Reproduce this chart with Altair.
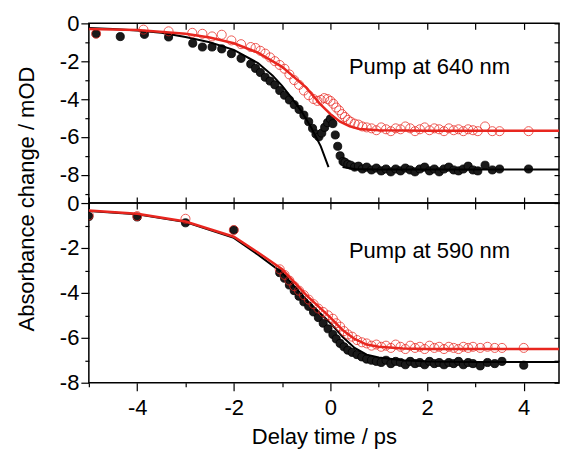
import altair as alt
import pandas as pd

FONT = "Liberation Sans"
RED = "#e8261f"

# ---------------- Top panel: pump at 640 nm ----------------
top_black_t = [-4.85, -4.35, -3.85, -3.35, -2.85, -2.65, -2.45, -2.25, -2.05, -1.85, -1.65, -1.55,
               -1.45, -1.35, -1.25, -1.15, -1.05, -0.95, -0.85, -0.75, -0.65, -0.55, -0.45, -0.37,
               -0.30, -0.24, -0.18, -0.12, -0.06, 0.00, 0.05, 0.10, 0.15, 0.20, 0.26, 0.30, 0.36,
               0.42, 0.50, 0.58, 0.66, 0.75, 0.85, 0.95, 1.05, 1.15, 1.25, 1.35, 1.45, 1.55, 1.65,
               1.75, 1.85, 1.95, 2.05, 2.15, 2.25, 2.35, 2.45, 2.55, 2.65, 2.75, 2.85, 2.95, 3.05,
               3.20, 3.35, 3.50, 4.10]
top_black_a = [-0.55, -0.70, -0.58, -0.72, -1.05, -1.25, -1.25, -1.35, -1.60, -1.85, -2.15, -2.38,
               -2.60, -2.85, -3.05, -3.25, -3.55, -3.80, -4.05, -4.30, -4.55, -4.85, -5.20, -5.55,
               -5.85, -6.00, -5.80, -5.50, -5.25, -5.05, -5.30, -5.90, -6.50, -7.00, -7.30, -7.35,
               -7.45, -7.50, -7.60, -7.55, -7.70, -7.60, -7.75, -7.65, -7.80, -7.70, -7.85, -7.70,
               -7.80, -7.65, -7.75, -7.85, -7.70, -7.60, -7.80, -7.70, -7.85, -7.70, -7.60, -7.75,
               -7.80, -7.70, -7.55, -7.75, -7.80, -7.50, -7.75, -7.70, -7.70]

top_red_t = [-4.85, -3.87, -3.35, -2.86, -2.65, -2.45, -2.25, -2.05, -1.85, -1.65, -1.55, -1.45,
             -1.35, -1.25, -1.15, -1.05, -0.95, -0.85, -0.75, -0.65, -0.55, -0.45, -0.35, -0.27,
             -0.20, -0.13, -0.06, 0.00, 0.06, 0.12, 0.18, 0.24, 0.30, 0.36, 0.42, 0.50, 0.58,
             0.66, 0.75, 0.85, 0.95, 1.05, 1.15, 1.25, 1.35, 1.45, 1.55, 1.65, 1.75, 1.85, 1.95,
             2.05, 2.15, 2.25, 2.35, 2.45, 2.55, 2.65, 2.75, 2.85, 2.95, 3.05, 3.20, 3.35, 3.50, 4.10]
top_red_a = [-0.55, -0.33, -0.42, -0.50, -0.55, -0.69, -0.60, -0.90, -1.10, -1.25, -1.30, -1.45,
             -1.60, -1.80, -2.00, -2.20, -2.40, -2.70, -3.00, -3.25, -3.55, -3.80, -4.00, -4.10,
             -4.05, -3.95, -4.00, -4.10, -4.25, -4.45, -4.60, -4.80, -4.95, -5.10, -5.20, -5.30,
             -5.35, -5.45, -5.50, -5.55, -5.65, -5.50, -5.60, -5.70, -5.55, -5.60, -5.45, -5.55,
             -5.70, -5.60, -5.50, -5.65, -5.55, -5.60, -5.70, -5.55, -5.65, -5.60, -5.70, -5.60,
             -5.65, -5.70, -5.45, -5.70, -5.70, -5.70]

top_fit_black_t = [-5.0, -4.5, -4.0, -3.5, -3.0, -2.5, -2.0, -1.5, -1.2, -1.0, -0.8, -0.6, -0.4,
                   -0.2, -0.04, 0.25, 0.5, 1.0, 5.0]
top_fit_black_a = [-0.25, -0.30, -0.38, -0.50, -0.72, -1.00, -1.40, -2.10, -2.75, -3.30, -3.95,
                   -4.65, -5.50, -6.50, -7.60, -7.60, -7.70, -7.72, -7.72]
top_fit_black_seg = ["a"] * 15 + ["b"] * 4

top_fit_red_t = [-5.0, -4.0, -3.0, -2.5, -2.0, -1.5, -1.0, -0.5, -0.2, 0.0, 0.2, 0.4, 0.6, 1.0, 2.0, 5.0]
top_fit_red_a = [-0.30, -0.35, -0.55, -0.75, -1.05, -1.55, -2.30, -3.40, -4.30, -4.80, -5.20,
                 -5.45, -5.58, -5.65, -5.68, -5.68]

# ---------------- Bottom panel: pump at 590 nm ----------------
bot_black_t = [-5.0, -4.0, -3.0, -2.0, -1.05, -0.95, -0.85, -0.75, -0.65, -0.55, -0.45, -0.35,
               -0.25, -0.15, -0.05, 0.05, 0.12, 0.20, 0.28, 0.36, 0.45, 0.55, 0.65, 0.75, 0.85,
               0.95, 1.05, 1.15, 1.25, 1.35, 1.45, 1.55, 1.65, 1.75, 1.85, 1.95, 2.05, 2.15, 2.25,
               2.35, 2.45, 2.55, 2.65, 2.75, 2.85, 2.95, 3.10, 3.25, 3.40, 3.55, 4.00]
bot_black_a = [-0.60, -0.62, -0.88, -1.20, -3.10, -3.35, -3.65, -3.90, -4.15, -4.40, -4.60, -4.85,
               -5.10, -5.35, -5.60, -5.85, -6.05, -6.25, -6.40, -6.55, -6.65, -6.75, -6.85, -6.95,
               -7.00, -7.05, -7.10, -7.00, -7.15, -7.05, -7.10, -7.20, -7.05, -7.15, -7.10, -7.20,
               -7.05, -7.15, -7.10, -7.20, -7.10, -7.15, -7.05, -7.20, -7.10, -7.15, -7.25, -7.10,
               -7.15, -7.05, -7.22]

bot_red_t = [-5.0, -4.0, -3.0, -2.0, -1.05, -0.95, -0.85, -0.75, -0.65, -0.55, -0.45, -0.35,
             -0.25, -0.15, -0.05, 0.05, 0.12, 0.20, 0.28, 0.36, 0.45, 0.55, 0.65, 0.75, 0.85,
             0.95, 1.05, 1.15, 1.25, 1.35, 1.45, 1.55, 1.65, 1.75, 1.85, 1.95, 2.05, 2.15, 2.25,
             2.35, 2.45, 2.55, 2.65, 2.75, 2.85, 2.95, 3.10, 3.25, 3.40, 3.55, 4.00]
bot_red_a = [-0.55, -0.58, -0.70, -1.20, -2.95, -3.20, -3.45, -3.70, -3.90, -4.10, -4.30, -4.50,
             -4.70, -4.85, -5.00, -5.15, -5.35, -5.50, -5.70, -5.85, -5.95, -6.10, -6.20, -6.25,
             -6.35, -6.30, -6.40, -6.35, -6.45, -6.30, -6.40, -6.50, -6.35, -6.45, -6.40, -6.50,
             -6.35, -6.45, -6.40, -6.50, -6.40, -6.45, -6.50, -6.40, -6.45, -6.40, -6.45, -6.40,
             -6.45, -6.45, -6.45]

bot_fit_black_t = [-5.0, -4.0, -3.0, -2.0, -1.5, -1.0, -0.5, 0.0, 0.25, 0.5, 0.75, 1.0, 1.5, 2.0, 3.0, 5.0]
bot_fit_black_a = [-0.35, -0.50, -0.85, -1.55, -2.30, -3.10, -4.30, -5.35, -5.95, -6.45, -6.75,
                   -6.88, -7.00, -7.05, -7.08, -7.08]

bot_fit_red_t = [-5.0, -4.0, -3.0, -2.0, -1.5, -1.0, -0.5, 0.0, 0.25, 0.5, 0.75, 1.0, 1.5, 2.0, 5.0]
bot_fit_red_a = [-0.33, -0.48, -0.82, -1.50, -2.20, -2.95, -4.10, -5.10, -5.65, -6.05, -6.30,
                 -6.40, -6.48, -6.50, -6.50]

labels_text = ["Pump at 640 nm", "Pump at 590 nm"]
labels_t = [2.05, 2.05]
labels_a = [-2.3, -2.12]

x_ticks = list(range(-5, 5))
top_y_ticks = list(range(-9, 1))
bot_y_ticks = list(range(-8, 1))

# The reference frame is cut at its right edge (about t = 4.73 is the last visible time)
W, H = 471, 180
xs = alt.Scale(domain=[-5, 4.73], nice=False, zero=False)
ys_top = alt.Scale(domain=[-9.5, 0], nice=False, zero=False)
ys_bot = alt.Scale(domain=[-8, 0], nice=False, zero=False)

even_label = ("abs(datum.value) % 2 == 0 ? (datum.value < 0 ? '-' + abs(datum.value) : '' + datum.value) : ''")


def tick_expr(major, minor):
    return {"expr": f"abs(datum.value) % 2 == 0 ? {major} : {minor}"}


def df_pts(t, a):
    return pd.DataFrame({"t": t, "a": a})


def panel(bk, rd, fbk, frd, lab_i, ys, yticks, is_top):
    if is_top:
        xA = alt.Axis(orient="top", offset=-6, values=x_ticks, tickSize=6, labels=False,
                      title=None, domain=False, minExtent=0, maxExtent=0)
        xB = alt.Axis(orient="bottom", offset=-6, values=x_ticks, tickSize=12, labels=False,
                      title=None, domain=False, minExtent=0, maxExtent=0)
    else:
        xA = alt.Axis(orient="bottom", values=x_ticks, tickSize=tick_expr(8, 4), labelExpr=even_label,
                      labelPadding=7, title="Delay time / ps", titlePadding=8, domain=False)
        xB = None
    yA = alt.Axis(orient="left", values=yticks, tickSize=tick_expr(8, 4), labelExpr=even_label,
                  labelPadding=2, title=None, domain=False)
    yB = alt.Axis(orient="right", offset=-5, values=yticks, tickSize=5, labels=False,
                  title=None, domain=False, minExtent=0, maxExtent=0)

    black_pts = alt.Chart(bk).mark_point(filled=True, size=66, fill="#1a1a1a", stroke="#000",
                                         strokeWidth=0.8, opacity=1, clip=True).encode(
        x=alt.X("t:Q", scale=xs, axis=xA),
        y=alt.Y("a:Q", scale=ys, axis=yA),
    )
    black_line = alt.Chart(fbk).mark_line(color="black", strokeWidth=2, clip=True).encode(
        x=alt.X("t:Q", scale=xs, axis=None),
        y=alt.Y("a:Q", scale=ys, axis=None),
        detail="seg:N",
    )
    red_pts = alt.Chart(rd).mark_point(filled=False, size=82, color=RED, strokeWidth=1,
                                       opacity=0.75, clip=True).encode(
        x=alt.X("t:Q", scale=xs, axis=None),
        y=alt.Y("a:Q", scale=ys, axis=None),
    )
    red_line = alt.Chart(frd).mark_line(color=RED, strokeWidth=2.5, clip=True).encode(
        x=alt.X("t:Q", scale=xs, axis=xB),
        y=alt.Y("a:Q", scale=ys, axis=yB),
    )
    lab_df = pd.DataFrame({"t": [labels_t[lab_i]], "a": [labels_a[lab_i]], "txt": [labels_text[lab_i]]})
    label = alt.Chart(lab_df).mark_text(font=FONT, fontSize=22, color="black", align="center",
                                        baseline="middle").encode(
        x=alt.X("t:Q", scale=xs, axis=None),
        y=alt.Y("a:Q", scale=ys, axis=None),
        text="txt:N",
    )
    layers = [black_pts, black_line, red_pts, red_line, label]
    if not is_top:
        ytitle = alt.Chart(pd.DataFrame({"txt": ["Absorbance change / mOD"]})).mark_text(
            font=FONT, fontSize=22, color="black", angle=270, align="center", baseline="middle"
        ).encode(x=alt.value(-62), y=alt.value(-4), text="txt:N")
        layers.append(ytitle)
    return alt.layer(*layers).resolve_axis(x="independent", y="independent").properties(
        width=W, height=H)


top = panel(df_pts(top_black_t, top_black_a), df_pts(top_red_t, top_red_a),
            pd.DataFrame({"t": top_fit_black_t, "a": top_fit_black_a, "seg": top_fit_black_seg}),
            df_pts(top_fit_red_t, top_fit_red_a), 0, ys_top, top_y_ticks, True)
bottom = panel(df_pts(bot_black_t, bot_black_a), df_pts(bot_red_t, bot_red_a),
               pd.DataFrame({"t": bot_fit_black_t, "a": bot_fit_black_a, "seg": ["a"] * len(bot_fit_black_t)}),
               df_pts(bot_fit_red_t, bot_fit_red_a), 1, ys_bot, bot_y_ticks, False)

chart = alt.vconcat(top, bottom, spacing=0, bounds="flush").properties(
    padding={"left": 7, "top": 3, "right": 0, "bottom": 0},
    background="white",
).configure_view(stroke="black", strokeWidth=1.5).configure_axis(
    grid=False, tickColor="black", tickWidth=1.2, labelColor="black", labelFont=FONT,
    labelFontSize=22, titleFont=FONT, titleFontSize=22, titleColor="black",
    titleFontWeight="normal"
)

chart.save("out.html", embed_options={"renderer": "svg", "actions": False})
